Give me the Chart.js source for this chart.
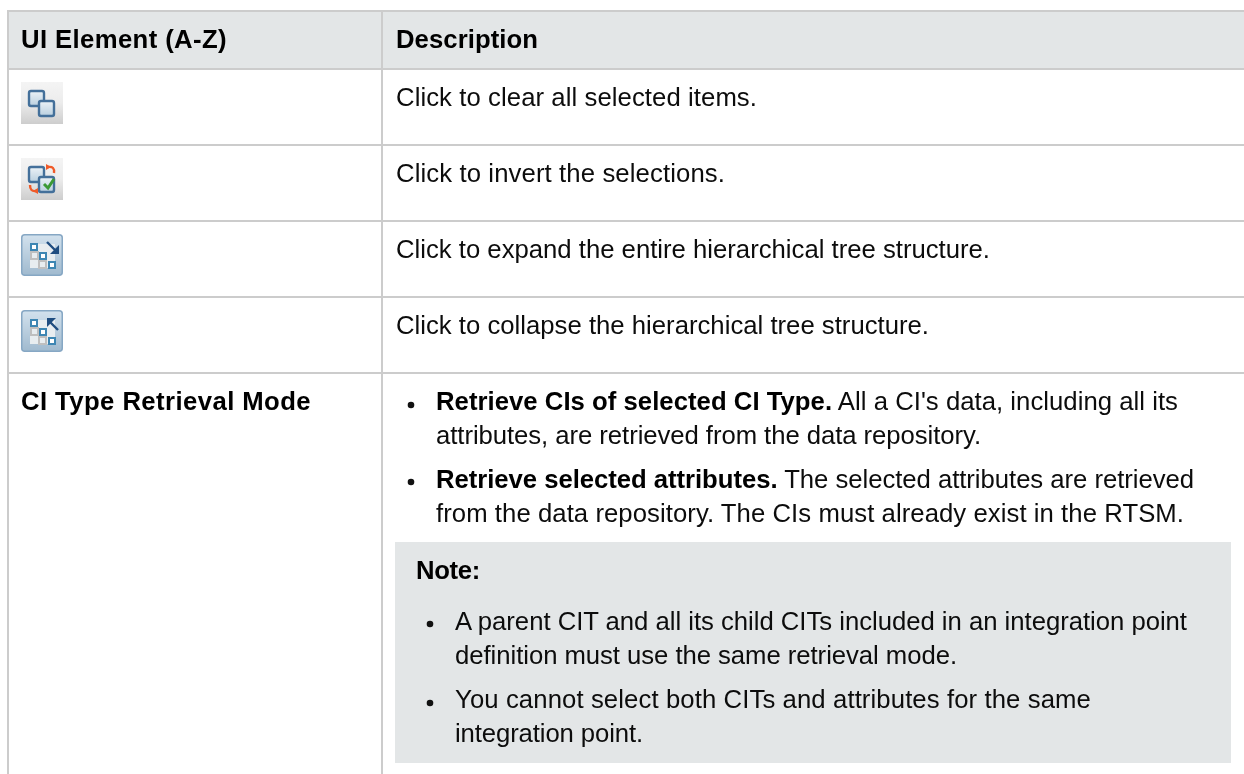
<!DOCTYPE html>
<html>
<head>
<meta charset="utf-8">
<style>
html, body { margin: 0; padding: 0; background: #fff; }
#wrap { position: relative; width: 1244px; height: 774px; overflow: hidden; }
#table { position: absolute; left: 0; top: 0; display: block; }
.t { position: absolute; white-space: nowrap; font-family: "Liberation Sans", Arial, sans-serif; font-size: 25.7px; line-height: 34px; color: #0c0c0c; filter: blur(0.3px); }
b { font-weight: bold; color: #000; }
</style>
<script src="https://cdn.jsdelivr.net/npm/chart.js@4"></script>
</head>
<body>
<div id="wrap"><canvas id="table" width="1244" height="774"></canvas></div>
<script>
// table geometry, in page pixels
const ruleColor = '#cccccc';
const bandColor = '#e3e6e7';
const tableLeft = 8, tableRight = 1244, columnDivider = 382, tableTop = 11, tableBottom = 774;
const rowRules = [11, 69, 145, 221, 297, 373];
const headerBand = { top: 11, bottom: 69 };
const noteBand = { x: [395, 1231], top: 542, bottom: 763 };

const iconCenters = [[42, 103], [42, 179], [42, 255], [42, 331]];

// text lines: x, baseline y, end x, html
const textLines = [
    [21, 48, 227, '<b>UI Element (A-Z)</b>'],
    [396, 48, 538, '<b>Description</b>'],
    [396, 106, 757, 'Click to clear all selected items.'],
    [396, 182, 725, 'Click to invert the selections.'],
    [396, 258, 990, 'Click to expand the entire hierarchical tree structure.'],
    [396, 334, 929, 'Click to collapse the hierarchical tree structure.'],
    [21, 410, 311, '<b>CI Type Retrieval Mode</b>'],
    [436, 410, 1178, '<b>Retrieve CIs of selected CI Type.</b> All a CI\'s data, including all its'],
    [436, 444, 981, 'attributes, are retrieved from the data repository.'],
    [436, 488, 1194, '<b>Retrieve selected attributes.</b> The selected attributes are retrieved'],
    [436, 522, 1184, 'from the data repository. The CIs must already exist in the RTSM.'],
    [416, 579, 480, '<b>Note:</b>'],
    [455, 630, 1187, 'A parent CIT and all its child CITs included in an integration point'],
    [455, 664, 957, 'definition must use the same retrieval mode.'],
    [455, 708, 1091, 'You cannot select both CITs and attributes for the same'],
    [455, 742, 643, 'integration point.']
];
const bulletPoints = [[411, 405], [411, 482], [430, 624], [430, 703]];

function drawIcon(kind) {
    const c = document.createElement('canvas');
    c.width = 42; c.height = 42;
    const g = c.getContext('2d');
    const bg = g.createLinearGradient(0, 0, 0, 42);
    if (kind < 2) {
        bg.addColorStop(0, '#f4f4f4'); bg.addColorStop(0.5, '#ececec'); bg.addColorStop(1, '#cdcdcd');
        g.fillStyle = bg; g.fillRect(0, 0, 42, 42);
        [[8, 9], [18, 19]].forEach(p => {
            const s = g.createLinearGradient(0, p[1], 0, p[1] + 15);
            s.addColorStop(0, '#edf3f7'); s.addColorStop(1, '#b9cfdf');
            g.fillStyle = s;
            g.strokeStyle = '#44709a'; g.lineWidth = 2.4;
            g.beginPath(); g.roundRect(p[0], p[1], 15, 15, 2); g.fill(); g.stroke();
        });
        if (kind === 1) {
            g.strokeStyle = '#3c9a35'; g.lineWidth = 3;
            g.beginPath(); g.moveTo(23, 26); g.lineTo(27, 30); g.lineTo(33, 21); g.stroke();
            g.strokeStyle = '#f05a28'; g.lineWidth = 2.4;
            g.beginPath(); g.moveTo(27, 9); g.quadraticCurveTo(34, 8, 33, 15); g.stroke();
            g.beginPath(); g.moveTo(15, 33); g.quadraticCurveTo(9, 34, 9, 27); g.stroke();
            g.fillStyle = '#f05a28';
            g.beginPath(); g.moveTo(25, 6); g.lineTo(30, 9); g.lineTo(25, 12); g.fill();
            g.beginPath(); g.moveTo(17, 30); g.lineTo(12, 33); g.lineTo(17, 36); g.fill();
        }
    } else {
        bg.addColorStop(0, '#d3e2ee'); bg.addColorStop(1, '#9fb9ce');
        g.fillStyle = bg; g.strokeStyle = '#86a7c4'; g.lineWidth = 1.5;
        g.beginPath(); g.roundRect(0.75, 0.75, 40.5, 40.5, 3); g.fill(); g.stroke();
        g.fillStyle = '#e8edf0'; g.fillRect(9, 10, 25, 24);
        [[10, 18], [18, 27]].forEach(p => {
            g.strokeStyle = '#bfbfbf'; g.lineWidth = 2; g.strokeRect(p[0], p[1], 7, 7);
        });
        [[10, 10], [19, 19], [28, 28]].forEach(p => {
            g.fillStyle = '#fff'; g.fillRect(p[0], p[1], 6, 6);
            g.strokeStyle = '#3d86b3'; g.lineWidth = 2; g.strokeRect(p[0], p[1], 6, 6);
        });
        g.strokeStyle = '#1f4d80'; g.lineWidth = 2.4;
        g.beginPath();
        if (kind === 2) { g.moveTo(26, 8); g.lineTo(36, 18); g.stroke(); g.fillStyle = '#1f4d80'; g.beginPath(); g.moveTo(38, 20); g.lineTo(38, 11); g.lineTo(29, 20); g.fill(); }
        else { g.moveTo(37, 20); g.lineTo(28, 11); g.stroke(); g.fillStyle = '#1f4d80'; g.beginPath(); g.moveTo(26, 8); g.lineTo(35, 8); g.lineTo(26, 17); g.fill(); }
    }
    return c;
}

const ruleSets = [];
rowRules.forEach(y => {
    ruleSets.push({ data: [{ x: tableLeft - 1, y: y }, { x: tableRight, y: y }] });
});
ruleSets.push({ data: [{ x: tableLeft, y: tableTop }, { x: tableLeft, y: tableBottom }] });
ruleSets.push({ data: [{ x: columnDivider, y: tableTop }, { x: columnDivider, y: tableBottom }] });
ruleSets.forEach(s => {
    s.type = 'line'; s.borderColor = ruleColor; s.borderWidth = 2; s.pointRadius = 0; s.order = 2; s.parsing = false;
});

function bandPair(x0, x1, top, bottom) {
    return [
        { type: 'line', data: [{ x: x0, y: top }, { x: x1, y: top }], borderWidth: 0, pointRadius: 0, fill: false, order: 3 },
        { type: 'line', data: [{ x: x0, y: bottom }, { x: x1, y: bottom }], borderWidth: 0, pointRadius: 0, fill: '-1', backgroundColor: bandColor, order: 3 }
    ];
}

const datasets = [
    ...bandPair(tableLeft, tableRight, headerBand.top, headerBand.bottom),
    ...bandPair(noteBand.x[0], noteBand.x[1], noteBand.top, noteBand.bottom),
    ...ruleSets,
    {
        type: 'scatter',
        data: iconCenters.map(p => ({ x: p[0], y: p[1] })),
        pointStyle: [0, 1, 2, 3].map(drawIcon),
        clip: false,
        order: 1
    },
    {
        type: 'scatter',
        data: bulletPoints.map(p => ({ x: p[0], y: p[1] })),
        pointStyle: 'circle',
        pointRadius: 3.3,
        backgroundColor: '#111',
        borderWidth: 0,
        order: 1
    }
];

new Chart(document.getElementById('table'), {
    data: { datasets: datasets },
    options: {
        responsive: false,
        animation: false,
        layout: { padding: 0, autoPadding: false },
        plugins: { legend: { display: false }, tooltip: { enabled: false } },
        scales: {
            x: { type: 'linear', min: 0, max: 1244, display: false },
            y: { type: 'linear', min: 0, max: 774, reverse: true, display: false }
        }
    }
});

const wrap = document.getElementById('wrap');
textLines.forEach(l => {
    const d = document.createElement('div');
    d.className = 't';
    d.style.left = l[0] + 'px';
    d.style.top = (l[1] - 26) + 'px';
    d.innerHTML = l[3];
    wrap.appendChild(d);
    // the reference glyphs are spaced a little wider, fit each line to its read end
    const natural = d.getBoundingClientRect().width;
    const chars = d.textContent.length;
    d.style.letterSpacing = ((l[2] - l[0] - natural) / chars) + 'px';
});
</script>
</body>
</html>
